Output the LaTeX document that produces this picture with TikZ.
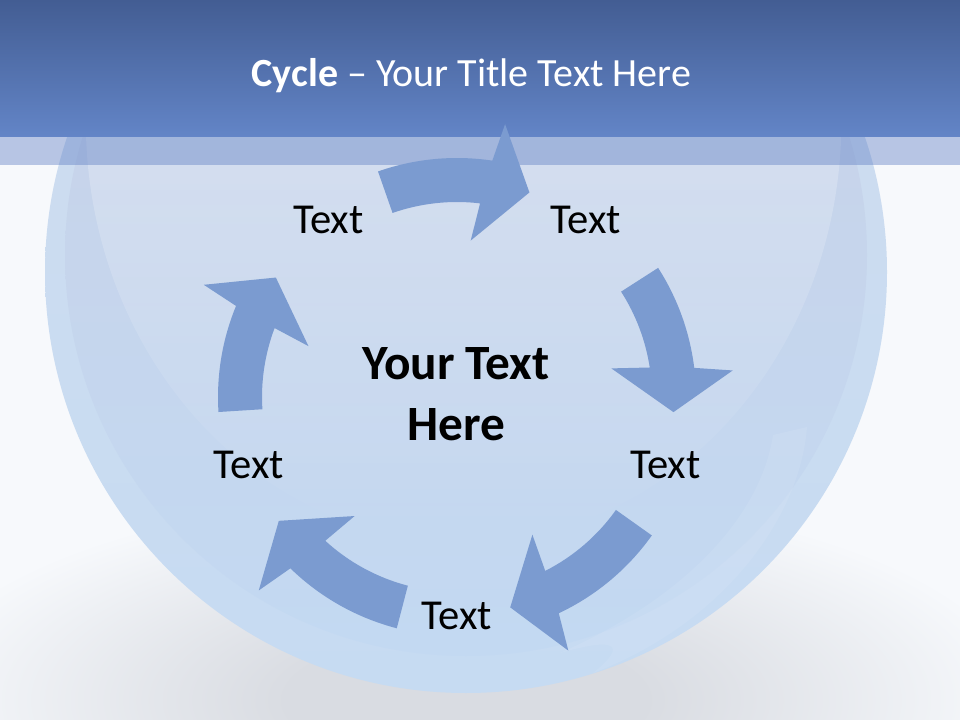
\documentclass[tikz,border=0pt]{standalone}
\usepackage{fontspec}
\setmainfont{Carlito}
\usetikzlibrary{fadings}
\definecolor{bgc}{HTML}{F7F9FC}
\definecolor{shadowc}{HTML}{D9DCE2}
\definecolor{ringtop}{HTML}{D0DDEF}
\definecolor{ringmid}{HTML}{D7E5F4}
\definecolor{ringbot}{HTML}{C6DBF2}
\definecolor{innertop}{HTML}{C9D1E6}
\definecolor{innerbot}{HTML}{C3D9F2}
\definecolor{titletop}{HTML}{435D93}
\definecolor{titlebot}{HTML}{6385C7}
\definecolor{bandc}{HTML}{5F7FC4}
\definecolor{arrowc}{HTML}{7B9BD0}
\pgfdeclareradialshading{shadowsh}{\pgfpoint{0bp}{0bp}}{color(0bp)=(shadowc); color(8bp)=(shadowc); color(25bp)=(bgc); color(50bp)=(bgc)}
\begin{document}
\begin{tikzpicture}[x=0.75pt,y=-0.75pt,
  lbl/.style={inner sep=0pt, font=\fontsize{32}{38}\selectfont, text=black},
  centertext/.style={inner sep=0pt, align=center, font=\fontsize{37}{45.75}\bfseries, text=black},
  titletext/.style={inner sep=0pt, font=\fontsize{30}{36}\selectfont, text=white},
  cyclearrow/.style={fill=arrowc}]
\useasboundingbox (0,0) rectangle (960,720);
\begin{scope}
\clip (0,0) rectangle (960,720);
\fill[bgc] (0,0) rectangle (960,720);
\shade[shading=shadowsh] (466,700) ellipse [x radius=560, y radius=210];
% outer ring
\shade[top color=ringtop, middle color=ringmid, bottom color=ringbot] (466,272) circle [radius=421];
% inner disc
\shade[top color=innertop, bottom color=innerbot] (466,255) circle [radius=401];
% glass highlight
\fill[white, fill opacity=0.5, path fading=south] (464,120) ellipse [x radius=378, y radius=422];
% bottom-right reflection
\fill[white, fill opacity=0.08] (807,427) .. controls (800,520) and (720,625) .. (593,673)
   .. controls (610,660) and (640,630) .. (560,653)
   .. controls (680,600) and (760,520) .. (773,435) -- cycle;
% title bar and band
\shade[top color=titletop, bottom color=titlebot] (0,0) rectangle (960,137);
\fill[bandc, fill opacity=0.42] (0,137) rectangle (960,165);
\end{scope}
\node[titletext, anchor=base] (title) at (471.5,87) {\textbf{Cycle} – Your Title Text Here};
% cycle
\begin{scope}[shift={(457,397)}, yscale=-1]
\foreach \c/\t in {90/19.3, 15.5/17.2, -56.3/20.9, -125.7/21.1, 166.1/17.5}{
  \fill[cyclearrow] ({\c+\t}:239) arc[start angle={\c+\t}, end angle={\c-8.5}, radius=239]
    -- ({\c-10}:277) -- ({\c-19.5}:217) -- ({\c-5}:157) -- ({\c-6.8}:195)
    arc[start angle={\c-6.8}, end angle={\c+\t}, radius=195] -- cycle;
}
\node[lbl] (t1) at (126:219) {Text};
\node[lbl] (t2) at (54:219) {Text};
\node[lbl] (t3) at (-18:219) {Text};
\node[lbl] (t4) at (-90:219) {Text};
\node[lbl] (t5) at (198:219) {Text};
\end{scope}
\node[centertext] (center) at (456,394.5) {Your Text\\Here};
\end{tikzpicture}
\end{document}
